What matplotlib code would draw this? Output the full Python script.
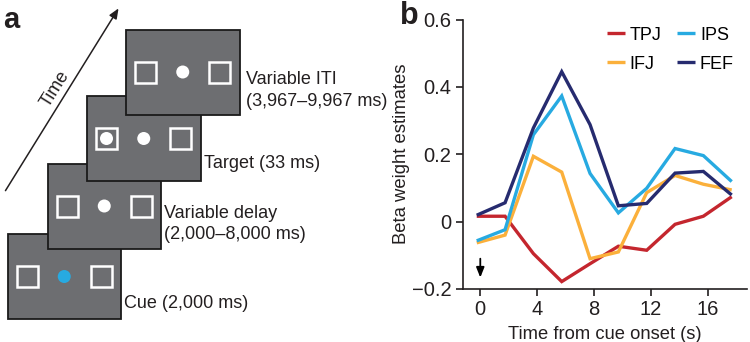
import matplotlib
matplotlib.use("Agg")
import matplotlib.pyplot as plt
from matplotlib.patches import Rectangle, Circle, FancyArrowPatch

plt.rcParams['font.family'] = ['Liberation Sans', 'DejaVu Sans']

# ---------------- data (panel b) ----------------
time_s = [-0.25, 1.74, 3.73, 5.72, 7.71, 9.70, 11.69, 13.68, 15.67, 17.66]
tpj = [0.016, 0.016, -0.095, -0.178, -0.125, -0.073, -0.085, -0.008, 0.016, 0.074]
ips = [-0.057, -0.024, 0.258, 0.373, 0.143, 0.026, 0.099, 0.217, 0.196, 0.119]
ifj = [-0.063, -0.040, 0.194, 0.147, -0.110, -0.090, 0.086, 0.137, 0.111, 0.094]
fef = [0.019, 0.056, 0.278, 0.445, 0.288, 0.047, 0.054, 0.144, 0.149, 0.079]
series_names = ['TPJ', 'IPS', 'IFJ', 'FEF']
x_ticks = [0, 4, 8, 12, 16]
y_ticks = [-0.2, 0, 0.2, 0.4, 0.6]
y_tick_labels = ['\u22120.2', '0', '0.2', '0.4', '0.6']

# ---------------- panel a content ----------------
screen_labels = [
    ['Cue (2,000 ms)'],
    ['Variable delay', '(2,000\u20138,000 ms)'],
    ['Target (33 ms)'],
    ['Variable ITI', '(3,967\u20139,967 ms)'],
]

colors = {'TPJ': '#c4262e', 'IPS': '#27aae1', 'IFJ': '#fbb03b', 'FEF': '#262b6f'}

fig = plt.figure(figsize=(7.5, 3.42), dpi=100)

# ================= panel a =================
axa = fig.add_axes([0, 0, 400 / 750, 1])
axa.set_xlim(0, 400)
axa.set_ylim(342, 0)
axa.axis('off')

screen_w, screen_h = 113.5, 85
screen_pos = [(7.5, 234), (47.5, 163.5), (87, 96), (126, 29.5)]
gray = '#6d6e71'
for i, (sx, sy) in enumerate(screen_pos):
    axa.add_patch(Rectangle((sx, sy), screen_w, screen_h, facecolor=gray,
                            edgecolor='#1a1a1a', linewidth=1.3, zorder=2 + i))
    sq = 21
    for qx in (sx + 9, sx + 83):
        axa.add_patch(Rectangle((qx, sy + 32), sq, sq, facecolor='none',
                                edgecolor='white', linewidth=1.8, zorder=2 + i))
    dot_color = '#27aae1' if i == 0 else 'white'
    axa.add_patch(Circle((sx + screen_w / 2, sy + 42.5), 6.5, facecolor=dot_color,
                         edgecolor='none', zorder=2 + i))
    if i == 2:
        axa.add_patch(Circle((sx + 19.5, sy + 42.5), 6.5, facecolor='white',
                             edgecolor='none', zorder=2 + i))

label_pos = [(124, 303), (164, 213), (204, 164), (246, 80)]
for (lx, ly), lines in zip(label_pos, screen_labels):
    for j, t in enumerate(lines):
        axa.text(lx, ly + j * 21.5, t, fontsize=13, color='#231f20',
                 ha='left', va='center', zorder=10)

axa.add_patch(FancyArrowPatch((4, 193), (120, 6), arrowstyle='-|>,head_length=6,head_width=2.5',
                              color='#231f20', linewidth=1.1, zorder=10))
axa.text(55, 89, 'Time', rotation=58, fontsize=13, color='#231f20',
         ha='center', va='center', rotation_mode='anchor')
axa.text(3, 20, 'a', fontsize=21, fontweight='bold', ha='left', va='center', color='#231f20')

# ================= panel b =================
ax_left, ax_right, ax_top, ax_bottom = 462.5, 746.5, 19.5, 289
ax = fig.add_axes([ax_left / 750, 1 - ax_bottom / 342, (ax_right - ax_left) / 750,
                   (ax_bottom - ax_top) / 342])
data = {'TPJ': tpj, 'IPS': ips, 'IFJ': ifj, 'FEF': fef}
order = ['TPJ', 'IFJ', 'IPS', 'FEF']
handles = {}
for name in order:
    h, = ax.plot(time_s, data[name], color=colors[name], linewidth=2.4,
                 solid_joinstyle='miter', solid_capstyle='butt', label=name)
    handles[name] = h

ax.set_xlim(-1.25, 18.7)
ax.set_ylim(-0.2, 0.6)
ax.set_xticks(x_ticks)
ax.set_yticks(y_ticks)
ax.set_yticklabels(y_tick_labels)
for s in ('top', 'right'):
    ax.spines[s].set_visible(False)
for s in ('left', 'bottom'):
    ax.spines[s].set_linewidth(1.2)
    ax.spines[s].set_color('#231f20')
ax.tick_params(direction='out', length=5, width=1.2, labelsize=14.5, colors='#231f20', pad=3)
ax.set_xlabel('Time from cue onset (s)', fontsize=13.2, color='#231f20', labelpad=5)
ax.set_ylabel('Beta weight estimates', fontsize=13.3, color='#231f20', labelpad=1)

ax.annotate('', xy=(0, -0.166), xytext=(0, -0.11),
            arrowprops=dict(arrowstyle='-|>,head_length=0.6,head_width=0.24',
                            color='black', lw=1.3, shrinkA=0, shrinkB=0))

leg = ax.legend([handles[n] for n in ['TPJ', 'IFJ', 'IPS', 'FEF']],
                ['TPJ', 'IFJ', 'IPS', 'FEF'], ncol=2, loc='upper left',
                bbox_to_anchor=((606.5 - ax_left) / (ax_right - ax_left),
                                1 - (26.5 - ax_top) / (ax_bottom - ax_top)),
                frameon=False, fontsize=13,
                handlelength=1.0, handletextpad=0.28, columnspacing=0.85,
                labelspacing=0.68, borderaxespad=0.0, borderpad=0.0)

fig.text(400 / 750, 1 - 16 / 342, 'b', fontsize=22, fontweight='bold',
         ha='left', va='center', color='#231f20')

fig.savefig('out.png', dpi=100)
